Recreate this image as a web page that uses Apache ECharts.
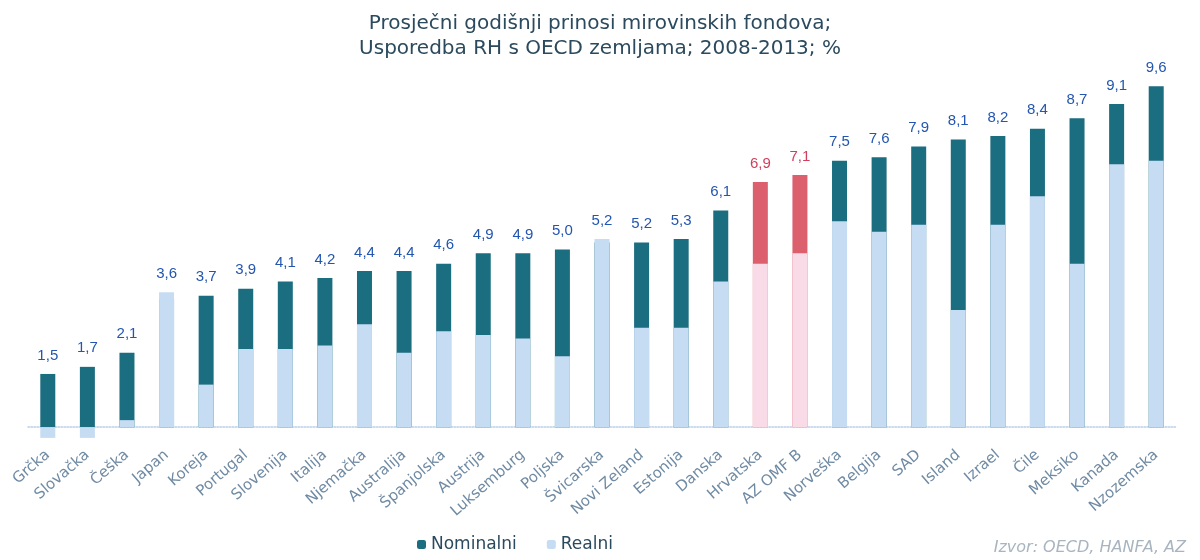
<!DOCTYPE html>
<html>
<head>
<meta charset="utf-8">
<script src="https://cdn.jsdelivr.net/npm/echarts@6/dist/echarts.min.js"></script>
<style>
  html, body { margin: 0; padding: 0; background: #fff; }
  #main { width: 1200px; height: 560px; }
</style>
</head>
<body>
<div id="main"></div>
<script>
var zemlje = ['Grčka', 'Slovačka', 'Češka', 'Japan', 'Koreja', 'Portugal', 'Slovenija', 'Italija',
    'Njemačka', 'Australija', 'Španjolska', 'Austrija', 'Luksemburg', 'Poljska', 'Švicarska',
    'Novi Zeland', 'Estonija', 'Danska', 'Hrvatska', 'AZ OMF B', 'Norveška', 'Belgija', 'SAD',
    'Island', 'Izrael', 'Čile', 'Meksiko', 'Kanada', 'Nzozemska'];
var nominalni = [1.5, 1.7, 2.1, 3.6, 3.7, 3.9, 4.1, 4.2, 4.4, 4.4, 4.6, 4.9, 4.9, 5.0, 5.2,
    5.2, 5.3, 6.1, 6.9, 7.1, 7.5, 7.6, 7.9, 8.1, 8.2, 8.4, 8.7, 9.1, 9.6];
var realni = [-0.3, -0.3, 0.2, 3.8, 1.2, 2.2, 2.2, 2.3, 2.9, 2.1, 2.7, 2.6, 2.5, 2.0, 5.3,
    2.8, 2.8, 4.1, 4.6, 4.9, 5.8, 5.5, 5.7, 3.3, 5.7, 6.5, 4.6, 7.4, 7.5];
var istaknuto = ['Hrvatska', 'AZ OMF B'];

var myChart = echarts.init(document.getElementById('main'));

function fmt(v) {
    return v.toFixed(1).replace('.', ',');
}

function isHr(i) {
    return istaknuto.indexOf(zemlje[i]) >= 0;
}

// oznaka ide na viši stupac, uvijek prikazuje nominalni prinos
var nomData = nominalni.map(function (v, i) {
    return {
        value: v,
        itemStyle: { color: isHr(i) ? '#dc5f6d' : '#1b6d80' },
        label: {
            show: v >= realni[i],
            color: isHr(i) ? '#d0405c' : '#2356b0'
        }
    };
});
var realData = realni.map(function (v, i) {
    return {
        value: v,
        itemStyle: { color: isHr(i) ? '#f8dbe6' : '#c6dcf2' },
        label: {
            show: v > nominalni[i],
            color: '#2356b0'
        }
    };
});

var option = {
    title: {
        text: 'Prosječni godišnji prinosi mirovinskih fondova;\nUsporedba RH s OECD zemljama; 2008-2013; %',
        left: 'center',
        top: 6,
        textStyle: {
            fontFamily: 'DejaVu Sans',
            fontSize: 20,
            fontWeight: 'normal',
            color: '#2b4a5e',
            lineHeight: 25
        }
    },
    legend: {
        data: ['Nominalni', 'Realni'],
        bottom: 2,
        left: 412,
        itemWidth: 9,
        itemHeight: 9,
        itemGap: 30,
        textStyle: {
            fontFamily: 'DejaVu Sans',
            fontSize: 17,
            color: '#2b4a5e'
        }
    },
    graphic: [{
        type: 'text',
        right: 14,
        bottom: 4,
        style: {
            text: 'Izvor: OECD, HANFA, AZ',
            font: 'italic 16px DejaVu Sans',
            fill: '#a8b4c0'
        }
    }],
    grid: {
        left: 28,
        right: 24,
        top: 72,
        bottom: 115
    },
    xAxis: {
        type: 'category',
        data: zemlje,
        axisLine: {
            onZero: true,
            lineStyle: { color: '#b9d0ea', type: 'dotted', width: 1.5 }
        },
        axisTick: { show: false },
        axisLabel: {
            interval: 0,
            rotate: 41,
            margin: 8,
            fontFamily: 'DejaVu Sans',
            fontSize: 15,
            color: '#6f8aa3'
        }
    },
    yAxis: {
        type: 'value',
        min: -0.5,
        max: 10,
        show: false,
        splitLine: { show: false }
    },
    series: [{
        name: 'Nominalni',
        type: 'bar',
        barWidth: 15,
        barGap: '-100%',
        itemStyle: { color: '#1b6d80' },
        label: {
            position: 'top',
            distance: 11,
            fontFamily: 'Liberation Sans',
            fontSize: 15,
            formatter: function (p) { return fmt(p.value); }
        },
        data: nomData,
        z: 2
    }, {
        name: 'Realni',
        type: 'bar',
        barWidth: 15,
        itemStyle: { color: '#c6dcf2' },
        label: {
            position: 'top',
            distance: 11,
            fontFamily: 'Liberation Sans',
            fontSize: 15,
            formatter: function (p) { return fmt(nominalni[p.dataIndex]); }
        },
        data: realData,
        z: 3
    }]
};

myChart.setOption(option);
</script>
</body>
</html>
